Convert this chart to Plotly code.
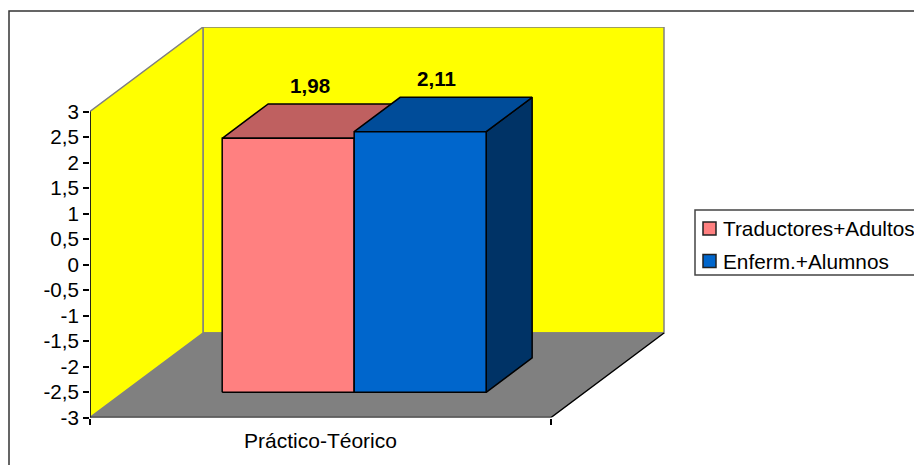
import plotly.graph_objects as go

# Chart data
category = "Práctico-Téorico"
series_names = ["Traductores+Adultos", "Enferm.+Alumnos"]
series_values = [1.98, 2.11]
tick_values = [-3, -2.5, -2, -1.5, -1, -0.5, 0, 0.5, 1, 1.5, 2, 2.5, 3]
tick_labels = ["-3", "-2,5", "-2", "-1,5", "-1", "-0,5", "0", "0,5", "1", "1,5", "2", "2,5", "3"]

# Colours: front, top and side face of each box
face_colors = [("#FF8080", "#BF6060", "#804040"), ("#0066CC", "#004C99", "#003366")]
WALL = "#FFFF00"
FLOOR = "#808080"
EDGE = "#808080"
INK = "#000000"
FONT = "Liberation Sans"
TEXT_SIZE = 20.6

W, H = 914, 465
PLOT_L, PLOT_R, PLOT_T, PLOT_B = 90, 665, 27, 417.5
FRONT_W = 461          # front floor edge width, one category
UNIT = 51              # height of one value unit
DEPTH_X, DEPTH_Y = 113 / FRONT_W, 84.5 / UNIT   # oblique shift over the full depth

Y_MIN, Y_MAX = -3, 3
BAR_WIDTH = 0.2863
DEPTH_NEAR, DEPTH_FAR = 0.298, 0.705
LABEL_XSHIFT = [-1, -7]


def project(x, value, depth):
    """Oblique projection of (category position, value, depth) to axis units."""
    return x + depth * DEPTH_X, value + depth * DEPTH_Y


def poly(points, fill=None, line=None, width=1.5):
    xs, ys = zip(*[project(*p) for p in points])
    return go.Scatter(
        x=xs, y=ys, mode="lines",
        fill="toself" if fill else None, fillcolor=fill,
        line=dict(color=line or "rgba(0,0,0,0)", width=width),
        cliponaxis=False, showlegend=False, hoverinfo="skip",
    )


fig = go.Figure()

# Back wall, side wall, floor
fig.add_trace(poly([(0, Y_MIN, 1), (1, Y_MIN, 1), (1, Y_MAX, 1), (0, Y_MAX, 1), (0, Y_MIN, 1)], WALL, EDGE))
fig.add_trace(poly([(0, Y_MIN, 0), (0, Y_MIN, 1), (0, Y_MAX, 1), (0, Y_MAX, 0), (0, Y_MIN, 0)], WALL, EDGE))
fig.add_trace(poly([(0, Y_MIN, 0), (1, Y_MIN, 0), (1, Y_MIN, 1), (0, Y_MIN, 1), (0, Y_MIN, 0)], FLOOR, None))
fig.add_trace(poly([(0, Y_MIN, 1), (1, Y_MIN, 1)], None, EDGE))

# Front floor edges and value axis line
fig.add_trace(poly([(0, Y_MIN, 0), (1, Y_MIN, 0), (1, Y_MIN, 1)], None, INK))
fig.add_trace(poly([(0, Y_MIN, 0), (0, Y_MAX, 0)], None, INK))

# Boxes: each one stands on the floor and rises to its value
left = 0.5 - BAR_WIDTH
for i, value in enumerate(series_values):
    x0, x1 = left + i * BAR_WIDTH, left + (i + 1) * BAR_WIDTH
    front, top, side = face_colors[i]
    n, f = DEPTH_NEAR, DEPTH_FAR
    fig.add_trace(poly([(x1, Y_MIN, n), (x1, Y_MIN, f), (x1, value, f), (x1, value, n), (x1, Y_MIN, n)], side, INK))
    fig.add_trace(poly([(x0, value, n), (x1, value, n), (x1, value, f), (x0, value, f), (x0, value, n)], top, INK))
    fig.add_trace(poly([(x0, Y_MIN, n), (x1, Y_MIN, n), (x1, value, n), (x0, value, n), (x0, Y_MIN, n)], front, INK))

# Value labels above each box: centred on the top face, clear of its far edge
annotations = []
for i, value in enumerate(series_values):
    cx = left + (i + 0.5) * BAR_WIDTH
    ax, _ = project(cx, value, (DEPTH_NEAR + DEPTH_FAR) / 2)
    _, ay = project(cx, value, DEPTH_FAR)
    annotations.append(dict(
        x=ax, y=ay, xref="x", yref="y", yanchor="bottom", yshift=5, xshift=LABEL_XSHIFT[i],
        text="<b>" + f"{value:.2f}".replace(".", ",") + "</b>", showarrow=False,
        font=dict(family=FONT, size=TEXT_SIZE, color=INK),
    ))


def px(x):
    return x / W


def py(y):
    return 1 - y / H


# Outer frame and legend box run past the page edge
shapes = [
    dict(type="rect", xref="paper", yref="paper", x0=px(9), x1=px(940), y0=py(11), y1=py(490),
         line=dict(color="#333333", width=1.5), fillcolor="rgba(0,0,0,0)", layer="below"),
    dict(type="rect", xref="paper", yref="paper", x0=px(695), x1=px(940), y0=py(210), y1=py(275),
         line=dict(color="#444444", width=1.5), fillcolor="#FFFFFF"),
]
key_rows = [228.5, 261]
for name, row, colors in zip(series_names, key_rows, face_colors):
    shapes.append(dict(type="rect", xref="paper", yref="paper",
                       x0=px(703), x1=px(716), y0=py(row - 6.5), y1=py(row + 6.5),
                       line=dict(color="#222222", width=1.5), fillcolor=colors[0]))
    annotations.append(dict(
        x=px(723), y=py(row), xref="paper", yref="paper", xanchor="left", yanchor="middle",
        xshift=-2, text=name, showarrow=False, font=dict(family=FONT, size=20.8, color=INK),
    ))

fig.update_layout(
    width=W, height=H,
    margin=dict(l=0, r=0, t=0, b=0),
    paper_bgcolor="#FFFFFF", plot_bgcolor="rgba(0,0,0,0)",
    showlegend=False,
    font=dict(family=FONT, size=TEXT_SIZE, color=INK),
    shapes=shapes, annotations=annotations,
    xaxis=dict(
        automargin=False,
        domain=[PLOT_L / W, PLOT_R / W],
        range=[0, (PLOT_R - PLOT_L) / FRONT_W],
        tickmode="array", tickvals=[0.5], ticktext=[category],
        tickfont=dict(family=FONT, size=21, color=INK),
        ticks="", showgrid=False, zeroline=False, showline=False,
        ticklabelstandoff=8,
        minor=dict(tickmode="array", tickvals=[0, 1], ticks="outside", ticklen=6, tickcolor=INK, tickwidth=1.5),
    ),
    yaxis=dict(
        automargin=False,
        domain=[1 - PLOT_B / H, 1 - PLOT_T / H],
        range=[Y_MIN, Y_MIN + (PLOT_B - PLOT_T) / UNIT],
        tickmode="array", tickvals=tick_values, ticktext=tick_labels,
        ticks="outside", ticklen=6, tickcolor=INK, tickwidth=1.5,
        showgrid=False, zeroline=False, showline=False,
    ),
)

fig.write_html("out.html", config=dict(displayModeBar=False))
